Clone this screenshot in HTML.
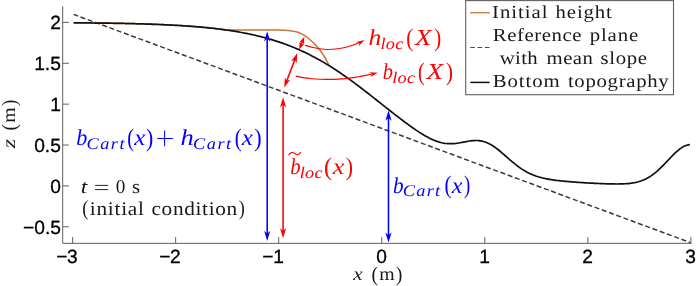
<!DOCTYPE html>
<html><head><meta charset="utf-8"><title>figure</title>
<style>
html,body{margin:0;padding:0;background:#fff;}
body{width:696px;height:286px;overflow:hidden;}
svg{display:block;will-change:transform;}
text{font-family:"Liberation Serif",serif;text-rendering:geometricPrecision;font-kerning:none;}
.tk{font-family:"Liberation Sans",sans-serif;font-size:19.2px;fill:#000;stroke:#000;stroke-width:0.3px;}
</style></head><body>
<svg width="696" height="286" viewBox="0 0 696 286">
<rect width="696" height="286" fill="#fff"/>
<path d="M62.7,6.3 V243.35 H691.4" fill="none" stroke="#606060" stroke-width="1"/>
<line x1="72.60" y1="243.35" x2="72.60" y2="237.1" stroke="#606060" stroke-width="1"/>
<text x="72.40" y="262.75" text-anchor="middle" class="tk">3</text>
<text x="67.41" y="262.75" text-anchor="end" class="tk">−</text>
<line x1="175.65" y1="243.35" x2="175.65" y2="237.1" stroke="#606060" stroke-width="1"/>
<text x="175.45" y="262.75" text-anchor="middle" class="tk">2</text>
<text x="170.46" y="262.75" text-anchor="end" class="tk">−</text>
<line x1="278.70" y1="243.35" x2="278.70" y2="237.1" stroke="#606060" stroke-width="1"/>
<text x="278.50" y="262.75" text-anchor="middle" class="tk">1</text>
<text x="273.51" y="262.75" text-anchor="end" class="tk">−</text>
<line x1="381.75" y1="243.35" x2="381.75" y2="237.1" stroke="#606060" stroke-width="1"/>
<text x="381.55" y="262.75" text-anchor="middle" class="tk">0</text>
<line x1="484.80" y1="243.35" x2="484.80" y2="237.1" stroke="#606060" stroke-width="1"/>
<text x="484.60" y="262.75" text-anchor="middle" class="tk">1</text>
<line x1="587.85" y1="243.35" x2="587.85" y2="237.1" stroke="#606060" stroke-width="1"/>
<text x="587.65" y="262.75" text-anchor="middle" class="tk">2</text>
<line x1="690.90" y1="243.35" x2="690.90" y2="237.1" stroke="#606060" stroke-width="1"/>
<text x="690.70" y="262.75" text-anchor="middle" class="tk">3</text>
<line x1="62.7" y1="22.40" x2="68.9" y2="22.40" stroke="#606060" stroke-width="1"/>
<text x="60.9" y="29.40" text-anchor="end" class="tk">2</text>
<line x1="62.7" y1="63.28" x2="68.9" y2="63.28" stroke="#606060" stroke-width="1"/>
<text x="60.9" y="70.28" text-anchor="end" class="tk">1.5</text>
<line x1="62.7" y1="104.15" x2="68.9" y2="104.15" stroke="#606060" stroke-width="1"/>
<text x="60.9" y="111.15" text-anchor="end" class="tk">1</text>
<line x1="62.7" y1="145.03" x2="68.9" y2="145.03" stroke="#606060" stroke-width="1"/>
<text x="60.9" y="152.03" text-anchor="end" class="tk">0.5</text>
<line x1="62.7" y1="185.90" x2="68.9" y2="185.90" stroke="#606060" stroke-width="1"/>
<text x="60.9" y="192.90" text-anchor="end" class="tk">0</text>
<line x1="62.7" y1="226.78" x2="68.9" y2="226.78" stroke="#606060" stroke-width="1"/>
<text x="60.9" y="233.78" text-anchor="end" class="tk">−0.5</text>
<line x1="73.6" y1="14.4" x2="690.4" y2="242.6" stroke="#3a3a3a" stroke-width="1.5" stroke-dasharray="5.0 2.72" stroke-dashoffset="0.37"/>
<path d="M73.63,22.57 L74.89,22.58 L76.16,22.59 L77.42,22.60 L78.68,22.61 L79.94,22.62 L81.20,22.63 L82.47,22.64 L83.73,22.66 L84.99,22.67 L86.25,22.68 L87.52,22.69 L88.78,22.71 L90.04,22.72 L91.30,22.74 L92.57,22.75 L93.83,22.76 L95.09,22.78 L96.35,22.79 L97.62,22.81 L98.88,22.83 L100.14,22.84 L101.40,22.86 L102.66,22.88 L103.93,22.90 L105.19,22.91 L106.45,22.93 L107.71,22.95 L108.98,22.97 L110.24,22.99 L111.50,23.01 L112.76,23.03 L114.03,23.06 L115.29,23.08 L116.55,23.10 L117.81,23.12 L119.08,23.15 L120.34,23.17 L121.60,23.20 L122.86,23.22 L124.12,23.25 L125.39,23.28 L126.65,23.30 L127.91,23.33 L129.17,23.36 L130.44,23.39 L131.70,23.42 L132.96,23.45 L134.22,23.48 L135.49,23.52 L136.75,23.55 L138.01,23.58 L139.27,23.62 L140.54,23.66 L141.80,23.69 L143.06,23.73 L144.32,23.77 L145.59,23.81 L146.85,23.85 L148.11,23.89 L149.37,23.93 L150.63,23.98 L151.90,24.02 L153.16,24.07 L154.42,24.11 L155.68,24.16 L156.95,24.21 L158.21,24.26 L159.47,24.31 L160.73,24.37 L162.00,24.42 L163.26,24.48 L164.52,24.53 L165.78,24.59 L167.05,24.65 L168.31,24.71 L169.57,24.77 L170.83,24.84 L172.09,24.90 L173.36,24.97 L174.62,25.04 L175.88,25.11 L177.14,25.18 L178.41,25.25 L179.67,25.33 L180.93,25.41 L182.19,25.49 L183.46,25.57 L184.72,25.65 L185.98,25.73 L187.24,25.82 L188.51,25.91 L189.77,26.00 L191.03,26.09 L192.29,26.19 L193.55,26.29 L194.82,26.39 L196.08,26.49 L197.34,26.59 L198.60,26.70 L199.87,26.81 L201.13,26.92 L202.39,27.04 L203.65,27.15 L204.92,27.27 L206.18,27.40 L207.44,27.52 L208.70,27.65 L209.97,27.78 L211.23,27.92 L212.49,28.06 L213.75,28.20 L215.02,28.34 L216.28,28.49 L217.54,28.64 L218.80,28.79 L220.06,28.95 L221.33,29.11 L222.59,29.28 L223.85,29.45 L225.11,29.62" fill="none" stroke="#c87533" stroke-width="1.3"/>
<path d="M224.00,29.90 C225.83,29.92 230.67,29.98 235.00,30.00 C239.33,30.02 245.00,30.00 250.00,30.00 C255.00,30.00 260.33,30.00 265.00,30.00 C269.67,30.00 274.67,29.95 278.00,30.00 C281.33,30.05 282.73,30.13 285.00,30.30 C287.27,30.47 289.77,30.75 291.60,31.00 C293.43,31.25 294.60,31.45 296.00,31.80 C297.40,32.15 298.62,32.52 300.00,33.10 C301.38,33.68 302.97,34.48 304.30,35.30 C305.63,36.12 306.77,37.02 308.00,38.00 C309.23,38.98 310.53,40.15 311.70,41.20 C312.87,42.25 313.95,43.20 315.00,44.30 C316.05,45.40 317.08,46.72 318.00,47.80 C318.92,48.88 319.75,49.80 320.50,50.80 C321.25,51.80 321.80,52.77 322.50,53.80 C323.20,54.83 324.03,55.92 324.70,57.00 C325.37,58.08 325.87,59.08 326.50,60.30 C327.13,61.52 328.17,63.63 328.50,64.30" fill="none" stroke="#c87533" stroke-width="1.5" stroke-linecap="round"/>
<path d="M73.63,22.81 L75.17,22.82 L76.71,22.84 L78.25,22.85 L79.79,22.86 L81.33,22.88 L82.87,22.89 L84.41,22.91 L85.96,22.92 L87.50,22.94 L89.04,22.96 L90.58,22.97 L92.12,22.99 L93.66,23.01 L95.20,23.03 L96.74,23.04 L98.28,23.06 L99.82,23.08 L101.36,23.11 L102.90,23.13 L104.44,23.15 L105.98,23.17 L107.52,23.19 L109.06,23.22 L110.60,23.24 L112.15,23.27 L113.69,23.29 L115.23,23.32 L116.77,23.35 L118.31,23.38 L119.85,23.41 L121.39,23.44 L122.93,23.47 L124.47,23.50 L126.01,23.53 L127.55,23.57 L129.09,23.60 L130.63,23.64 L132.17,23.68 L133.71,23.72 L135.25,23.76 L136.79,23.80 L138.34,23.84 L139.88,23.88 L141.42,23.93 L142.96,23.97 L144.50,24.02 L146.04,24.07 L147.58,24.12 L149.12,24.17 L150.66,24.22 L152.20,24.28 L153.74,24.33 L155.28,24.39 L156.82,24.45 L158.36,24.51 L159.90,24.58 L161.44,24.64 L162.99,24.71 L164.53,24.78 L166.07,24.85 L167.61,24.92 L169.15,25.00 L170.69,25.08 L172.23,25.16 L173.77,25.24 L175.31,25.32 L176.85,25.41 L178.39,25.50 L179.93,25.59 L181.47,25.69 L183.01,25.78 L184.55,25.88 L186.09,25.99 L187.63,26.09 L189.18,26.20 L190.72,26.32 L192.26,26.43 L193.80,26.55 L195.34,26.67 L196.88,26.80 L198.42,26.93 L199.96,27.06 L201.50,27.20 L203.04,27.34 L204.58,27.49 L206.12,27.64 L207.66,27.79 L209.20,27.95 L210.74,28.11 L212.28,28.28 L213.82,28.45 L215.37,28.63 L216.91,28.81 L218.45,28.99 L219.99,29.19 L221.53,29.38 L223.07,29.59 L224.61,29.79 L226.15,30.01 L227.69,30.23 L229.23,30.45 L230.77,30.69 L232.31,30.92 L233.85,31.17 L235.39,31.42 L236.93,31.68 L238.47,31.94 L240.02,32.22 L241.56,32.50 L243.10,32.78 L244.64,33.08 L246.18,33.38 L247.72,33.69 L249.26,34.01 L250.80,34.34 L252.34,34.67 L253.88,35.01 L255.42,35.37 L256.96,35.73 L258.50,36.10 L260.04,36.48 L261.58,36.87 L263.12,37.27 L264.66,37.68 L266.21,38.10 L267.75,38.53 L269.29,38.96 L270.83,39.42 L272.37,39.88 L273.91,40.35 L275.45,40.83 L276.99,41.33 L278.53,41.83 L280.07,42.35 L281.61,42.88 L283.15,43.42 L284.69,43.98 L286.23,44.54 L287.77,45.12 L289.31,45.71 L290.85,46.32 L292.40,46.93 L293.94,47.56 L295.48,48.21 L297.02,48.86 L298.56,49.53 L300.10,50.22 L301.64,50.91 L303.18,51.62 L304.72,52.35 L306.26,53.09 L307.80,53.84 L309.34,54.61 L310.88,55.39 L312.42,56.18 L313.96,56.99 L315.50,57.81 L317.04,58.65 L318.59,59.50 L320.13,60.36 L321.67,61.24 L323.21,62.13 L324.75,63.04 L326.29,63.96 L327.83,64.89 L329.37,65.84 L330.91,66.80 L332.45,67.77 L333.99,68.76 L335.53,69.76 L337.07,70.77 L338.61,71.80 L340.15,72.83 L341.69,73.88 L343.24,74.94 L344.78,76.02 L346.32,77.10 L347.86,78.19 L349.40,79.30 L350.94,80.41 L352.48,81.53 L354.02,82.67 L355.56,83.81 L357.10,84.96 L358.64,86.12 L360.18,87.29 L361.72,88.46 L363.26,89.64 L364.80,90.83 L366.34,92.02 L367.88,93.22 L369.43,94.42 L370.97,95.63 L372.51,96.84 L374.05,98.05 L375.59,99.27 L377.13,100.49 L378.67,101.71 L380.21,102.93 L381.75,104.15 L383.29,105.37 L384.83,106.59 L386.37,107.81 L387.91,109.03 L389.45,110.24 L390.99,111.46 L392.53,112.67 L394.07,113.87 L395.62,115.07 L397.16,116.26 L398.70,117.45 L400.24,118.63 L401.78,119.80 L403.32,120.97 L404.86,122.12 L406.40,123.26 L407.94,124.40 L409.48,125.52 L411.02,126.62 L412.56,127.71 L414.10,128.78 L415.64,129.84 L417.18,130.87 L418.72,131.88 L420.26,132.87 L421.81,133.83 L423.35,134.77 L424.89,135.67 L426.43,136.54 L427.97,137.37 L429.51,138.16 L431.05,138.91 L432.59,139.62 L434.13,140.27 L435.67,140.88 L437.21,141.43 L438.75,141.93 L440.29,142.37 L441.83,142.75 L443.37,143.06 L444.91,143.32 L446.46,143.51 L448.00,143.64 L449.54,143.71 L451.08,143.72 L452.62,143.67 L454.16,143.56 L455.70,143.41 L457.24,143.22 L458.78,142.99 L460.32,142.73 L461.86,142.44 L463.40,142.15 L464.94,141.85 L466.48,141.56 L468.02,141.28 L469.56,141.03 L471.10,140.81 L472.65,140.64 L474.19,140.53 L475.73,140.48 L477.27,140.51 L478.81,140.61 L480.35,140.81 L481.89,141.09 L483.43,141.47 L484.97,141.94 L486.51,142.52 L488.05,143.19 L489.59,143.95 L491.13,144.81 L492.67,145.75 L494.21,146.77 L495.75,147.87 L497.29,149.03 L498.84,150.25 L500.38,151.52 L501.92,152.82 L503.46,154.15 L505.00,155.50 L506.54,156.86 L508.08,158.21 L509.62,159.56 L511.16,160.88 L512.70,162.18 L514.24,163.45 L515.78,164.68 L517.32,165.86 L518.86,167.00 L520.40,168.08 L521.94,169.11 L523.48,170.09 L525.03,171.01 L526.57,171.88 L528.11,172.69 L529.65,173.44 L531.19,174.14 L532.73,174.79 L534.27,175.40 L535.81,175.96 L537.35,176.47 L538.89,176.95 L540.43,177.38 L541.97,177.79 L543.51,178.16 L545.05,178.50 L546.59,178.82 L548.13,179.11 L549.68,179.38 L551.22,179.64 L552.76,179.87 L554.30,180.09 L555.84,180.30 L557.38,180.49 L558.92,180.67 L560.46,180.85 L562.00,181.01 L563.54,181.17 L565.08,181.31 L566.62,181.46 L568.16,181.59 L569.70,181.72 L571.24,181.85 L572.78,181.97 L574.32,182.08 L575.87,182.20 L577.41,182.31 L578.95,182.41 L580.49,182.51 L582.03,182.61 L583.57,182.71 L585.11,182.80 L586.65,182.89 L588.19,182.98 L589.73,183.06 L591.27,183.14 L592.81,183.22 L594.35,183.30 L595.89,183.37 L597.43,183.44 L598.97,183.51 L600.51,183.57 L602.06,183.63 L603.60,183.69 L605.14,183.75 L606.68,183.80 L608.22,183.84 L609.76,183.88 L611.30,183.92 L612.84,183.95 L614.38,183.97 L615.92,183.98 L617.46,183.98 L619.00,183.97 L620.54,183.94 L622.08,183.90 L623.62,183.84 L625.16,183.76 L626.71,183.66 L628.25,183.53 L629.79,183.37 L631.33,183.18 L632.87,182.94 L634.41,182.67 L635.95,182.35 L637.49,181.98 L639.03,181.55 L640.57,181.07 L642.11,180.52 L643.65,179.90 L645.19,179.21 L646.73,178.44 L648.27,177.59 L649.81,176.67 L651.35,175.66 L652.90,174.57 L654.44,173.40 L655.98,172.14 L657.52,170.82 L659.06,169.42 L660.60,167.96 L662.14,166.44 L663.68,164.87 L665.22,163.27 L666.76,161.64 L668.30,160.00 L669.84,158.37 L671.38,156.76 L672.92,155.18 L674.46,153.65 L676.00,152.19 L677.54,150.82 L679.09,149.55 L680.63,148.40 L682.17,147.38 L683.71,146.50 L685.25,145.79 L686.79,145.23 L688.33,144.85 L689.87,144.65" fill="none" stroke="#111" stroke-width="1.7" stroke-linejoin="round"/>
<line x1="267.20" y1="37.91" x2="267.20" y2="234.39" stroke="#0000ff" stroke-width="1.55"/><path d="M267.20,31.30 L270.30,41.50 L267.20,38.64 L264.10,41.50 Z" fill="#0000ff"/><path d="M267.20,241.00 L264.10,230.80 L267.20,233.66 L270.30,230.80 Z" fill="#0000ff"/>
<line x1="283.10" y1="103.81" x2="283.10" y2="231.69" stroke="#ff0000" stroke-width="1.55"/><path d="M283.10,97.20 L286.20,107.40 L283.10,104.54 L280.00,107.40 Z" fill="#ff0000"/><path d="M283.10,238.30 L280.00,228.10 L283.10,230.96 L286.20,228.10 Z" fill="#ff0000"/>
<line x1="388.50" y1="117.21" x2="388.50" y2="235.99" stroke="#0000ff" stroke-width="1.55"/><path d="M388.50,110.60 L391.60,120.80 L388.50,117.94 L385.40,120.80 Z" fill="#0000ff"/><path d="M388.50,242.60 L385.40,232.40 L388.50,235.26 L391.60,232.40 Z" fill="#0000ff"/>
<line x1="302.28" y1="41.93" x2="301.32" y2="44.37" stroke="#ff0000" stroke-width="1.2"/><path d="M304.30,36.80 L304.14,44.04 L302.06,42.49 L299.48,42.21 Z" fill="#ff0000"/><path d="M299.30,49.50 L299.46,42.26 L301.54,43.81 L304.12,44.09 Z" fill="#ff0000"/>
<line x1="295.05" y1="59.04" x2="286.45" y2="81.66" stroke="#ff0000" stroke-width="1.6"/><path d="M297.30,53.10 L296.63,63.33 L294.80,59.70 L291.02,61.20 Z" fill="#ff0000"/><path d="M284.20,87.60 L284.87,77.37 L286.70,81.00 L290.48,79.50 Z" fill="#ff0000"/>
<path d="M304.90,45.20 C306.08,45.55 309.63,46.72 312.00,47.30 C314.37,47.88 316.53,48.33 319.10,48.70 C321.67,49.07 324.27,49.48 327.40,49.50 C330.53,49.52 334.80,49.18 337.90,48.80 C341.00,48.42 343.82,47.70 346.00,47.20 C348.18,46.70 348.95,46.50 351.00,45.80 C353.05,45.10 356.63,43.67 358.30,43.00 C359.97,42.33 360.55,42.00 361.00,41.80" fill="none" stroke="#ff0000" stroke-width="1.1"/>
<path d="M364.50,40.00 L358.61,46.23 L359.37,42.92 L356.14,41.88 Z" fill="#ff0000"/>
<path d="M295.70,76.10 C296.92,76.35 300.35,77.17 303.00,77.60 C305.65,78.03 308.77,78.42 311.60,78.70 C314.43,78.98 317.13,79.18 320.00,79.30 C322.87,79.42 325.80,79.43 328.80,79.40 C331.80,79.37 334.88,79.27 338.00,79.10 C341.12,78.93 344.67,78.68 347.50,78.40 C350.33,78.12 352.62,77.78 355.00,77.40 C357.38,77.02 359.80,76.48 361.80,76.10 C363.80,75.72 364.97,75.50 367.00,75.10 C369.03,74.70 372.83,73.93 374.00,73.70" fill="none" stroke="#ff0000" stroke-width="1.1"/>
<path d="M377.90,72.80 L370.45,77.04 L372.14,74.10 L369.35,72.16 Z" fill="#ff0000"/>
<text transform="translate(76.37,144.90) scale(0.9693,1)" style="font-style:italic;font-size:22.9px" fill="#0000ff">b</text>
<text transform="translate(86.60,148.50) scale(1.1200,1)" style="font-style:italic;font-size:16.3px;letter-spacing:1.321px" fill="#0000ff">Cart</text>
<text transform="translate(127.34,145.50) scale(0.7950,1)" style="font-size:25.4px" fill="#0000ff">(</text>
<text transform="translate(134.21,144.90) scale(1.0869,1)" style="font-style:italic;font-size:22.9px" fill="#0000ff">x</text>
<text transform="translate(146.09,145.50) scale(0.8562,1)" style="font-size:25.4px" fill="#0000ff">)</text>
<text transform="translate(180.47,144.90) scale(1.1576,1)" style="font-style:italic;font-size:22.9px" fill="#0000ff">h</text>
<text transform="translate(193.00,148.50) scale(1.1200,1)" style="font-style:italic;font-size:16.3px;letter-spacing:1.410px" fill="#0000ff">Cart</text>
<text transform="translate(234.73,145.50) scale(0.8103,1)" style="font-size:25.4px" fill="#0000ff">(</text>
<text transform="translate(241.71,144.90) scale(1.0869,1)" style="font-style:italic;font-size:22.9px" fill="#0000ff">x</text>
<text transform="translate(254.28,145.50) scale(0.8715,1)" style="font-size:25.4px" fill="#0000ff">)</text>
<path d="M157.2,138.4 H172.8 M164.6,130.5 V146.2" fill="none" stroke="#0000ff" stroke-width="1.05"/>
<text transform="translate(290.22,174.00) scale(0.9087,1)" style="font-style:italic;font-size:22.9px" fill="#ff0000">b</text>
<text transform="translate(299.64,177.60) scale(1.1200,1)" style="font-style:italic;font-size:16.3px;letter-spacing:0.254px" fill="#ff0000">loc</text>
<text transform="translate(324.08,174.60) scale(0.9479,1)" style="font-size:25.4px" fill="#ff0000">(</text>
<text transform="translate(332.73,174.00) scale(1.1451,1)" style="font-style:italic;font-size:22.9px" fill="#ff0000">x</text>
<text transform="translate(345.69,174.60) scale(0.8562,1)" style="font-size:25.4px" fill="#ff0000">)</text>
<path d="M288.6,155.3 C290,152.1 292.8,151.9 294.7,153.5 C296.6,155.1 299.3,155.0 300.8,152.0" fill="none" stroke="#ff0000" stroke-width="1.1"/>
<text transform="translate(392.90,192.70) scale(0.9289,1)" style="font-style:italic;font-size:22.9px" fill="#0000ff">b</text>
<text transform="translate(402.80,196.30) scale(1.1200,1)" style="font-style:italic;font-size:16.3px;letter-spacing:1.143px" fill="#0000ff">Cart</text>
<text transform="translate(444.61,193.30) scale(0.8256,1)" style="font-size:25.4px" fill="#0000ff">(</text>
<text transform="translate(451.80,192.70) scale(1.0480,1)" style="font-style:italic;font-size:22.9px" fill="#0000ff">x</text>
<text transform="translate(463.99,193.30) scale(0.7339,1)" style="font-size:25.4px" fill="#0000ff">)</text>
<text transform="translate(368.51,45.40) scale(1.1163,1)" style="font-style:italic;font-size:22.9px" fill="#ff0000">h</text>
<text transform="translate(380.44,49.00) scale(1.1200,1)" style="font-style:italic;font-size:16.3px;letter-spacing:0.299px" fill="#ff0000">loc</text>
<text transform="translate(406.31,46.00) scale(0.8256,1)" style="font-size:25.4px" fill="#ff0000">(</text>
<text transform="translate(414.88,45.40) scale(1.1774,1)" style="font-style:italic;font-size:22.9px" fill="#ff0000">X</text>
<text transform="translate(434.22,46.00) scale(0.8256,1)" style="font-size:25.4px" fill="#ff0000">)</text>
<text transform="translate(382.74,79.40) scale(0.8885,1)" style="font-style:italic;font-size:22.9px" fill="#ff0000">b</text>
<text transform="translate(392.24,83.00) scale(1.1200,1)" style="font-style:italic;font-size:16.3px;letter-spacing:0.209px" fill="#ff0000">loc</text>
<text transform="translate(418.06,80.00) scale(0.7798,1)" style="font-size:25.4px" fill="#ff0000">(</text>
<text transform="translate(426.49,79.40) scale(1.1904,1)" style="font-style:italic;font-size:22.9px" fill="#ff0000">X</text>
<text transform="translate(446.02,80.00) scale(0.8256,1)" style="font-size:25.4px" fill="#ff0000">)</text>
<text transform="translate(80.83,192.70) scale(1.2249,1)" style="font-style:italic;font-size:19.4px" fill="#1a1a1a">t</text>
<path d="M95.1,185.4 H108.2 M95.1,189.6 H108.2" fill="none" stroke="#1a1a1a" stroke-width="0.95"/>
<text transform="translate(115.68,192.70) scale(0.9945,1)" style="font-size:19.4px" fill="#1a1a1a">0</text>
<text transform="translate(132.07,192.70) scale(1.0722,1)" style="font-size:19.4px" fill="#1a1a1a">s</text>
<text transform="translate(82.31,215.40) scale(0.8711,1)" style="font-size:21.4px" fill="#1a1a1a">(</text>
<text transform="translate(89.77,215.30) scale(1.1000,1)" style="font-size:19.4px;letter-spacing:0.663px" fill="#1a1a1a">initial</text>
<text transform="translate(151.50,215.30) scale(1.1000,1)" style="font-size:19.4px;letter-spacing:0.581px" fill="#1a1a1a">condition</text>
<text transform="translate(238.81,215.40) scale(0.8529,1)" style="font-size:21.4px" fill="#1a1a1a">)</text>
<text transform="translate(353.16,280.30) scale(1.1350,1)" style="font-style:italic;font-size:18.6px" fill="#1a1a1a">x</text>
<text transform="translate(371.57,280.70) scale(0.9426,1)" style="font-size:20.6px" fill="#1a1a1a">(</text>
<text transform="translate(379.20,280.30) scale(1.0644,1)" style="font-size:18.6px" fill="#1a1a1a">m</text>
<text transform="translate(395.98,280.70) scale(0.9237,1)" style="font-size:20.6px" fill="#1a1a1a">)</text>
<g transform="translate(15.4,148.6) rotate(-90)"><text transform="translate(0.30,0.00) scale(1.3042,1)" style="font-style:italic;font-size:18.6px" fill="#1a1a1a">z</text><text transform="translate(18.17,0.40) scale(0.9426,1)" style="font-size:20.6px" fill="#1a1a1a">(</text><text transform="translate(25.80,0.00) scale(1.0644,1)" style="font-size:18.6px" fill="#1a1a1a">m</text><text transform="translate(42.67,0.40) scale(0.9426,1)" style="font-size:20.6px" fill="#1a1a1a">)</text></g>
<rect x="465.7" y="0.6" width="207.8" height="94.1" fill="#fff" stroke="#606060" stroke-width="1.1"/>
<line x1="470.2" y1="12.7" x2="489.8" y2="12.7" stroke="#c87533" stroke-width="1.3"/>
<line x1="470.3" y1="47.5" x2="489.6" y2="47.5" stroke="#4a4a4a" stroke-width="1.15" stroke-dasharray="4.6 2.7"/>
<line x1="470.3" y1="82.4" x2="489.6" y2="82.4" stroke="#111" stroke-width="1.5"/>
<text transform="translate(492.07,17.90) scale(1.1300,1)" style="font-size:18.4px;letter-spacing:0.841px" fill="#1a1a1a">Initial</text>
<text transform="translate(555.59,17.90) scale(1.1300,1)" style="font-size:18.4px;letter-spacing:0.749px" fill="#1a1a1a">height</text>
<text transform="translate(492.83,41.00) scale(1.1300,1)" style="font-size:18.4px;letter-spacing:0.480px" fill="#1a1a1a">Reference</text>
<text transform="translate(589.69,41.00) scale(1.1300,1)" style="font-size:18.4px;letter-spacing:0.768px" fill="#1a1a1a">plane</text>
<text transform="translate(499.70,64.20) scale(1.1300,1)" style="font-size:18.4px;letter-spacing:0.325px" fill="#1a1a1a">with</text>
<text transform="translate(546.58,64.20) scale(1.1300,1)" style="font-size:18.4px;letter-spacing:0.401px" fill="#1a1a1a">mean</text>
<text transform="translate(600.57,64.20) scale(1.1300,1)" style="font-size:18.4px;letter-spacing:0.539px" fill="#1a1a1a">slope</text>
<text transform="translate(492.83,87.40) scale(1.1300,1)" style="font-size:18.4px;letter-spacing:0.780px" fill="#1a1a1a">Bottom</text>
<text transform="translate(567.89,87.40) scale(1.1300,1)" style="font-size:18.4px;letter-spacing:0.605px" fill="#1a1a1a">topography</text>
</svg>
</body></html>
